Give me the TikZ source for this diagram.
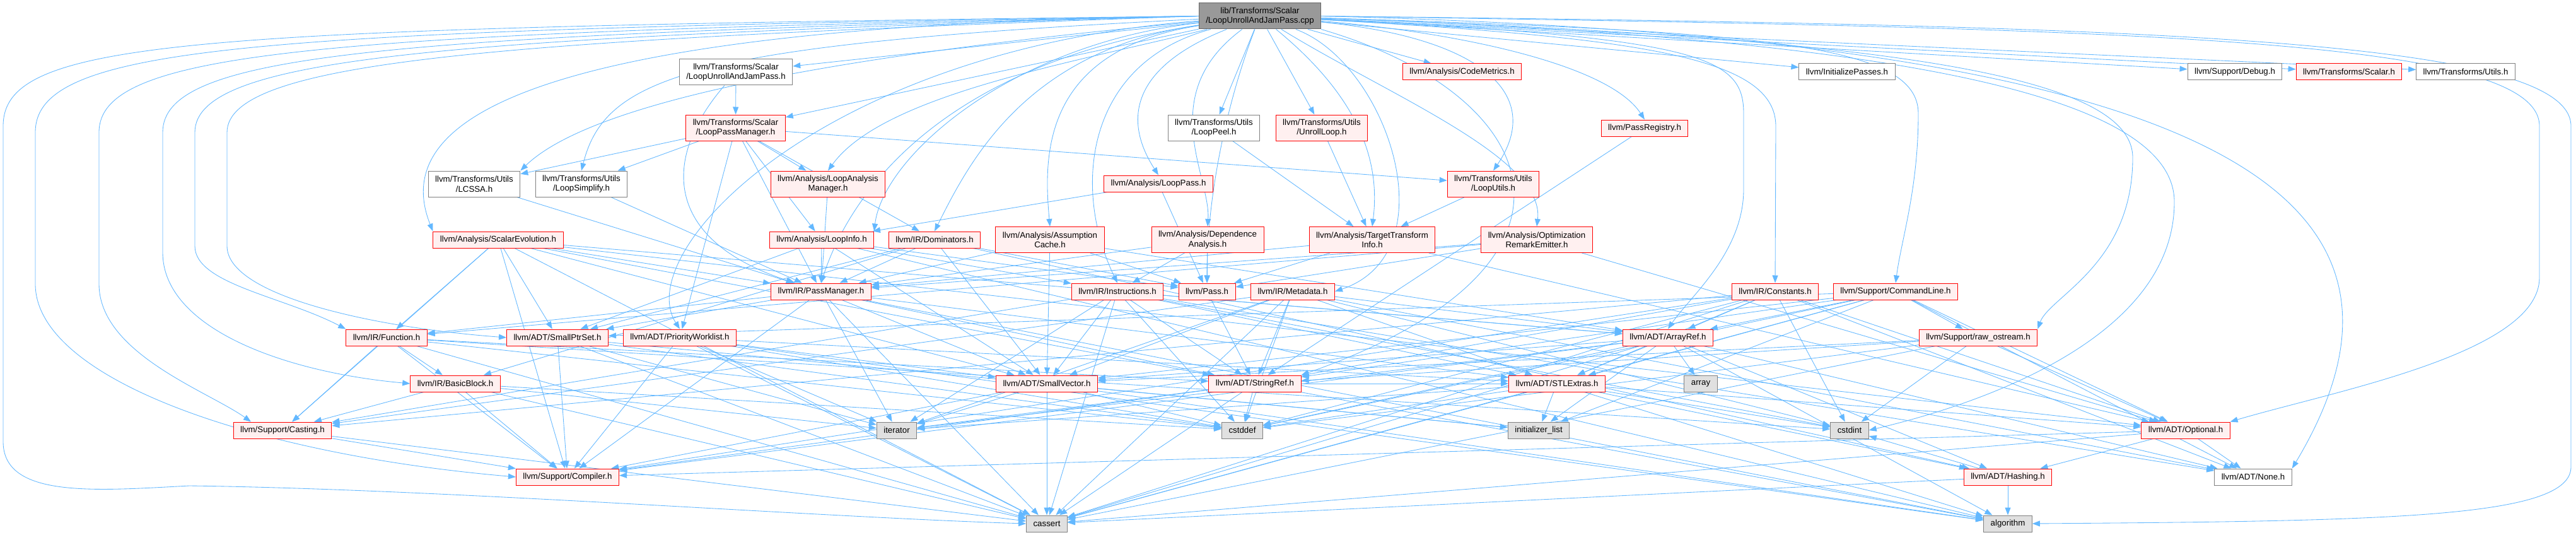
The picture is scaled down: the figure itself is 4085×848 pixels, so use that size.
\documentclass[tikz,border=0pt]{standalone}
\usepackage{fontspec}
\setmainfont{Liberation Sans}
\usetikzlibrary{arrows.meta}

\definecolor{edgeblue}{HTML}{63B8FF}
\definecolor{hdrfill}{HTML}{FFF0F0}
\definecolor{sysfill}{HTML}{E0E0E0}
\definecolor{rootfill}{HTML}{999999}
\definecolor{boxgray}{HTML}{808080}

\pgfdeclarelayer{paper}
\pgfdeclarelayer{wires}
\pgfsetlayers{paper,wires,main}

\tikzset{
  incfile/.style={draw=#1, line width=1pt, inner xsep=11pt, inner ysep=2pt,
    minimum height=26pt, align=center, font=\fontsize{13.3}{15.5}\selectfont},
  redfile/.style={incfile=red, fill=hdrfill},
  whitefile/.style={incfile=boxgray, fill=white},
  sysfile/.style={incfile=boxgray, fill=sysfill},
  rootfile/.style={incfile=black!60, fill=rootfill},
  tall/.style={minimum height=41pt},
  dep/.style={draw=edgeblue, line width=0.85pt, -{Triangle[length=12pt,width=9pt]}},
}

\begin{document}
\begin{tikzpicture}[x=1pt, y=-1pt]
\useasboundingbox (0,0) rectangle (4085,848);
\begin{pgfonlayer}{paper}
  \fill[white] (0,0) rectangle (4085,848);
\end{pgfonlayer}

% the source file
\node[rootfile, tall] (root) at (1998,25.5) {lib/Transforms/Scalar\\/LoopUnrollAndJamPass.cpp};

% first level
\node[whitefile, tall] (luajh) at (1167,114.5) {llvm/Transforms/Scalar\\/LoopUnrollAndJamPass.h};
\node[redfile] (codemetrics) at (2318.5,114) {llvm/Analysis/CodeMetrics.h};
\node[whitefile] (initpasses) at (2929,114) {llvm/InitializePasses.h};
\node[whitefile] (debug) at (3544,114) {llvm/Support/Debug.h};
\node[redfile] (scalar) at (3725,114) {llvm/Transforms/Scalar.h};
\node[whitefile] (utils) at (3910,114) {llvm/Transforms/Utils.h};

\node[redfile, tall] (lpm) at (1166.5,202.5) {llvm/Transforms/Scalar\\/LoopPassManager.h};
\node[whitefile, tall] (looppeel) at (1925,202.5) {llvm/Transforms/Utils\\/LoopPeel.h};
\node[redfile, tall] (unrollloop) at (2096,202.5) {llvm/Transforms/Utils\\/UnrollLoop.h};
\node[redfile] (passregistry) at (2608,203) {llvm/PassRegistry.h};

\node[whitefile, tall] (lcssa) at (752,291.5) {llvm/Transforms/Utils\\/LCSSA.h};
\node[whitefile, tall] (loopsimplify) at (922,291.5) {llvm/Transforms/Utils\\/LoopSimplify.h};
\node[redfile, tall] (lam) at (1313,291.5) {llvm/Analysis/LoopAnalysis\\Manager.h};
\node[redfile] (looppass) at (1837,291) {llvm/Analysis/LoopPass.h};
\node[redfile, tall] (looputils) at (2368,291.5) {llvm/Transforms/Utils\\/LoopUtils.h};

\node[redfile] (scev) at (790,380) {llvm/Analysis/ScalarEvolution.h};
\node[redfile] (loopinfo) at (1303,380) {llvm/Analysis/LoopInfo.h};
\node[redfile] (dominators) at (1482,380) {llvm/IR/Dominators.h};
\node[redfile, tall] (assumption) at (1665,380) {llvm/Analysis/Assumption\\Cache.h};
\node[redfile, tall] (depend) at (1915,380) {llvm/Analysis/Dependence\\Analysis.h};
\node[redfile, tall] (tti) at (2176,380) {llvm/Analysis/TargetTransform\\Info.h};
\node[redfile, tall] (ore) at (2437,380) {llvm/Analysis/Optimization\\RemarkEmitter.h};

\node[redfile] (passmanager) at (1302,462) {llvm/IR/PassManager.h};
\node[redfile] (instructions) at (1772,462) {llvm/IR/Instructions.h};
\node[redfile] (pass) at (1914,462) {llvm/Pass.h};
\node[redfile] (metadata) at (2050,462) {llvm/IR/Metadata.h};
\node[redfile] (constants) at (2815,462) {llvm/IR/Constants.h};
\node[redfile] (cmdline) at (3006,462) {llvm/Support/CommandLine.h};

\node[redfile] (function) at (613,535) {llvm/IR/Function.h};
\node[redfile] (smallptrset) at (884,535) {llvm/ADT/SmallPtrSet.h};
\node[redfile] (prioworklist) at (1078,535) {llvm/ADT/PriorityWorklist.h};
\node[redfile] (arrayref) at (2645,535) {llvm/ADT/ArrayRef.h};
\node[redfile] (rawostream) at (3137,535) {llvm/Support/raw\_ostream.h};

\node[redfile] (basicblock) at (722,608) {llvm/IR/BasicBlock.h};
\node[redfile] (smallvector) at (1660,608) {llvm/ADT/SmallVector.h};
\node[redfile] (stringref) at (1990,608) {llvm/ADT/StringRef.h};
\node[redfile] (stlextras) at (2469,608) {llvm/ADT/STLExtras.h};
\node[sysfile] (array) at (2697,608) {array};

\node[redfile] (casting) at (448,682) {llvm/Support/Casting.h};
\node[sysfile] (iterator) at (1422,682) {iterator};
\node[sysfile] (cstddef) at (1970,682) {cstddef};
\node[sysfile] (initlist) at (2440,682) {initializer\_list};
\node[sysfile] (cstdint) at (2933,682) {cstdint};
\node[redfile] (optional) at (3466,682) {llvm/ADT/Optional.h};

\node[redfile] (compiler) at (900,756) {llvm/Support/Compiler.h};
\node[redfile] (hashing) at (3184,756) {llvm/ADT/Hashing.h};
\node[whitefile] (none) at (3573,756) {llvm/ADT/None.h};

\node[sysfile] (cassert) at (1660,830) {cassert};
\node[sysfile] (algorithm) at (3184,830) {algorithm};

\begin{pgfonlayer}{wires}
% includes of the source file
\foreach \t in {luajh,codemetrics,initpasses,debug,scalar,utils,lpm,looppeel,unrollloop}
  \draw[dep] (root) -- (\t);
\draw[dep] (root) .. controls (1400,80) and (950,150) .. (lcssa.north east);
\draw[dep] (root) .. controls (1100,70) and (960,120) .. (loopsimplify.north);
\draw[dep] (root) .. controls (1700,100) and (1400,150) .. (lam.north);
\draw[dep] (root.west) .. controls (800,40) and (620,200) .. (scev.north west);
\draw[dep] (root) .. controls (2300,50) and (2550,100) .. (passregistry.north);
\draw[dep] (root) .. controls (2350,60) and (2450,150) .. (looputils.north);
\draw[dep] (root) .. controls (2200,150) and (2450,250) .. (ore.north);
\draw[dep] (root) .. controls (2150,150) and (2190,250) .. (tti.north);
\draw[dep] (root) .. controls (1830,150) and (1920,280) .. (depend.north);
\draw[dep] (root) .. controls (1760,120) and (1800,220) .. (looppass.north);
\draw[dep] (root) .. controls (1720,100) and (1700,300) .. (instructions.north);
\draw[dep] (root) .. controls (1650,80) and (1655,250) .. (assumption.north);
\draw[dep] (root) .. controls (1630,80) and (1540,250) .. (dominators.north);
\draw[dep] (root) .. controls (1600,70) and (1400,250) .. (loopinfo.north east);
\draw[dep] (root) .. controls (1500,100) and (1350,300) .. (passmanager.north);
\draw[dep] (root) .. controls (1950,150) and (1914,300) .. (pass.north);
\draw[dep] (root) .. controls (2200,100) and (2300,400) .. (metadata.east);
\draw[dep] (root) .. controls (1300,80) and (1000,400) .. (prioworklist.north);
\draw[dep] (root.south east) .. controls (2450,150) and (2560,420) .. (stringref.north east);
\draw[dep] (root) .. controls (2700,60) and (2765,90) .. (2765,180) -- (2765,300)
  .. controls (2765,400) and (2680,470) .. (arrayref.north);
\draw[dep] (root) .. controls (2600,60) and (2816,90) .. (2816,200) -- (constants.north);
\draw[dep] (root) .. controls (2800,50) and (3042,70) .. (3042,180)
  .. controls (3042,300) and (3015,380) .. (cmdline.north);
\draw[dep] (root) .. controls (3000,60) and (3382,120) .. (3382,250)
  .. controls (3382,420) and (3250,470) .. (rawostream.north east);
\draw[dep] (root) .. controls (3000,60) and (3448,150) .. (3448,320)
  .. controls (3448,550) and (3100,650) .. (cstdint.east);
\draw[dep] (root.east) .. controls (3500,60) and (3900,300) .. (none.north east);
% long loops round the sides
\draw[dep] (root.west) .. controls (300,45) and (5,60) .. (5,200) -- (5,700)
  .. controls (5,790) and (150,778) .. (300,770) .. controls (700,775) and (1300,820) .. (cassert.west);
\draw[dep] (root.west) .. controls (400,48) and (56,70) .. (56,210) -- (56,450)
  .. controls (56,600) and (400,720) .. (compiler.west);
\draw[dep] (root.west) .. controls (500,52) and (157,80) .. (157,210) -- (157,450)
  .. controls (157,560) and (330,620) .. ([xshift=-50pt]casting.north);
\draw[dep] (root.west) .. controls (600,56) and (258,85) .. (258,210) -- (258,400)
  .. controls (258,520) and (450,590) .. (basicblock.west);
\draw[dep] (root.west) .. controls (700,60) and (309,90) .. (309,210) -- (309,390)
  .. controls (309,450) and (450,470) .. (function.north west);
\draw[dep] (root.west) .. controls (800,64) and (360,95) .. (360,210) -- (360,390)
  .. controls (360,470) and (600,520) .. (smallptrset.west);
\draw[dep] (root.east) .. controls (3400,45) and (4027,60) .. (4027,200) -- (4027,440)
  .. controls (4027,560) and (3700,620) .. (optional.north east);
\draw[dep] (root.east) .. controls (3400,40) and (4077,60) .. (4077,200) -- (4077,740)
  .. controls (4077,820) and (3800,826) .. (algorithm.east);

% includes of the headers
\draw[dep] (luajh) -- (lpm);
\draw[dep] (luajh) .. controls (1050,250) and (1050,380) .. (passmanager);
\foreach \t in {lcssa,loopsimplify,lam,loopinfo,dominators,prioworklist,looputils,passmanager}
  \draw[dep] (lpm) -- (\t);
\foreach \s in {lcssa,loopsimplify,lam}
  \draw[dep] (\s) -- (passmanager);
\foreach \t in {loopinfo,pass}
  \draw[dep] (looppass) -- (\t);
\foreach \s in {looppeel,unrollloop,looputils}
  \draw[dep] (\s) -- (tti);
\draw[dep] (passregistry) -- (stringref);
\foreach \t in {passmanager,function,casting,smallptrset,smallvector,arrayref,optional,compiler,cassert,stringref}
  \draw[dep] (scev) -- (\t);
\foreach \t in {passmanager,smallptrset,smallvector,instructions,pass,algorithm}
  \draw[dep] (loopinfo) -- (\t);
\foreach \t in {passmanager,pass,smallptrset,smallvector,basicblock,hashing}
  \draw[dep] (dominators) -- (\t);
\foreach \t in {passmanager,pass,smallvector,arrayref}
  \draw[dep] (assumption) -- (\t);
\foreach \t in {passmanager,pass,instructions}
  \draw[dep] (depend) -- (\t);
\foreach \t in {passmanager,pass,optional}
  \draw[dep] (tti) -- (\t);
\foreach \t in {passmanager,pass,function,optional}
  \draw[dep] (ore) -- (\t);
\foreach \t in {function,smallptrset,smallvector,stringref,stlextras,iterator,cassert,algorithm,compiler}
  \draw[dep] (passmanager) -- (\t);
\foreach \t in {arrayref,none,stlextras,smallvector,stringref,casting,cassert,cstddef,cstdint,iterator}
  \draw[dep] (instructions) -- (\t);
\draw[dep] (pass) -- (stringref);
\foreach \t in {arrayref,none,stlextras,smallvector,stringref,casting,cassert,cstddef,cstdint,iterator}
  \draw[dep] (metadata) -- (\t);
\foreach \t in {arrayref,none,optional,stlextras,stringref,casting,compiler,cassert,cstddef,cstdint}
  \draw[dep] (constants) -- (\t);
\foreach \t in {arrayref,none,optional,stlextras,smallptrset,smallvector,stringref,rawostream,cassert,cstddef,initlist}
  \draw[dep] (cmdline) -- (\t);
\foreach \t in {basicblock,stringref,casting,compiler,cassert,cstddef,cstdint}
  \draw[dep] (function) -- (\t);
\foreach \t in {compiler,cassert,cstddef,initlist,iterator}
  \draw[dep] (smallptrset) -- (\t);
\foreach \t in {stlextras,smallvector,compiler,algorithm,cassert,cstddef,iterator}
  \draw[dep] (prioworklist) -- (\t);
\foreach \t in {hashing,none,smallvector,stlextras,compiler,algorithm,array,cassert,cstddef,initlist,iterator}
  \draw[dep] (arrayref) -- (\t);
\foreach \t in {smallvector,stringref,optional,cassert,cstddef,cstdint}
  \draw[dep] (rawostream) -- (\t);
\foreach \t in {casting,compiler,iterator,cassert,cstddef}
  \draw[dep] (basicblock) -- (\t);
\foreach \t in {compiler,algorithm,cassert,cstddef,initlist,iterator}
  \draw[dep] (smallvector) -- (\t);
\foreach \t in {stlextras,compiler,algorithm,cassert,cstddef,iterator}
  \draw[dep] (stringref) -- (\t);
\foreach \t in {hashing,optional,algorithm,cassert,cstddef,cstdint,initlist,iterator}
  \draw[dep] (stlextras) -- (\t);
\foreach \t in {compiler,cassert}
  \draw[dep] (casting) -- (\t);
\foreach \t in {hashing,none,compiler,cassert}
  \draw[dep] (optional) -- (\t);
\foreach \t in {algorithm,cassert,cstdint}
  \draw[dep] (hashing) -- (\t);
\end{pgfonlayer}
\end{tikzpicture}
\end{document}
